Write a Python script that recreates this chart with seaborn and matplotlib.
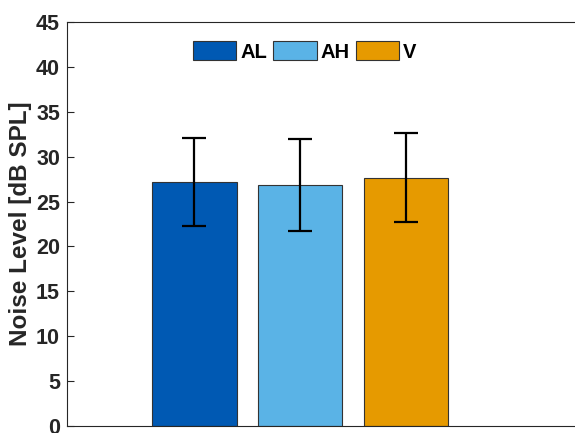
import matplotlib
matplotlib.use("Agg")
import matplotlib.pyplot as plt
import seaborn as sns
import pandas as pd
import numpy as np

# Data
conditions = ["AL", "AH", "V"]
noise_mean = [27.2, 26.85, 27.65]
noise_sd = [4.9, 5.1, 4.95]
colors = ["#0059B3", "#5AB3E6", "#E69A00"]
yticks = [0, 5, 10, 15, 20, 25, 30, 35, 40, 45]

sns.set_style("white")
plt.rcParams["font.family"] = ["Liberation Sans", "DejaVu Sans"]
plt.rcParams["font.weight"] = "bold"

df = pd.DataFrame({"cond": conditions, "mean": noise_mean, "sd": noise_sd})

fig = plt.figure(figsize=(5.75, 4.33), dpi=100)
ax = fig.add_axes([0.1165, 0.0162, 0.903, 0.933])

sns.barplot(data=df, x="cond", y="mean", hue="cond", palette=colors,
            order=conditions, hue_order=conditions, errorbar=None,
            width=0.8, edgecolor="#333333", linewidth=0.8, saturation=1,
            legend=True, ax=ax)

ax.errorbar(np.arange(len(conditions)), df["mean"], yerr=df["sd"], fmt="none",
            ecolor="black", elinewidth=1.6, capsize=8.3, capthick=1.6, zorder=5)

ax.set_xlim(-1.2, 3.7)
ax.set_ylim(0, 45)
ax.set_yticks(yticks)
ax.set_yticklabels([str(t) for t in yticks], fontsize=15.5, fontweight="bold", color="#262626")
ax.set_xticks([])
ax.set_xlabel("")
ax.set_ylabel("Noise Level [dB SPL]", fontsize=17.5, fontweight="bold", color="#262626", labelpad=3)
ax.tick_params(axis="y", direction="in", length=5, width=0.8, color="#262626", pad=5, left=True)

for s in ["left", "bottom", "top"]:
    ax.spines[s].set_visible(True)
    ax.spines[s].set_color("#262626")
    ax.spines[s].set_linewidth(0.8)
ax.spines["right"].set_visible(False)

handles, labels = ax.get_legend_handles_labels()
leg = ax.legend(handles, labels, loc="upper center", bbox_to_anchor=(0.530, 0.905),
                bbox_transform=fig.transFigure, ncol=3, frameon=False,
                handlelength=2.15, handleheight=1.1, handletextpad=0.2,
                columnspacing=0.3, borderaxespad=0, borderpad=0,
                prop={"weight": "bold", "size": 14.5})
for t in leg.get_texts():
    t.set_color("black")

fig.savefig("out.png", dpi=100)
